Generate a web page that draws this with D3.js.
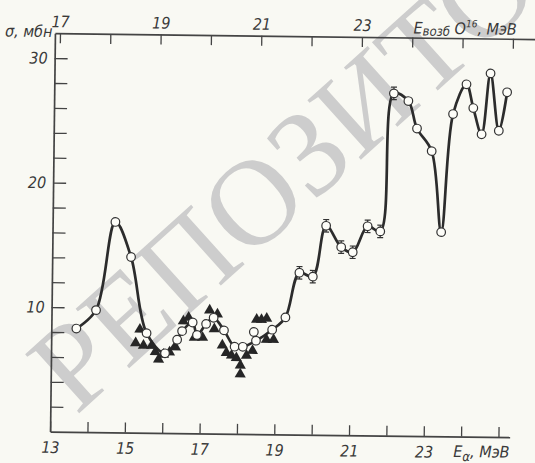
<!DOCTYPE html>
<meta charset="utf-8">
<script src="https://d3js.org/d3.v7.min.js"></script>
<style>
  body { margin: 0; background: #f9f9f3; }
</style>
<div id="my_dataviz"></div>
<script>
// open circles, joined by the smooth curve (E alpha, MeV / sigma, mb)
var circleE = [13.67, 14.19, 14.68, 15.11, 15.55, 16.05, 16.37, 16.50, 16.78, 16.90,
               17.14, 17.34, 17.62, 17.91, 18.13, 18.42, 18.48, 18.91, 19.26, 19.62,
               19.98, 20.32, 20.73, 21.04, 21.43, 21.77, 22.09, 22.48, 22.72, 23.12,
               23.40, 23.68, 24.03, 24.22, 24.45, 24.67, 24.91, 25.12];
var circleSigma = [8.3, 9.8, 16.9, 14.1, 8.0, 6.4, 7.5, 8.2, 8.9, 7.9,
                   8.8, 9.3, 8.3, 7.0, 7.0, 8.2, 7.5, 8.4, 9.4, 13.0,
                   12.7, 16.8, 15.1, 14.7, 16.8, 16.4, 27.5, 26.9, 24.7, 22.9,
                   16.4, 25.9, 28.3, 26.4, 24.3, 29.2, 24.6, 27.7];
var circleErr = [0, 0, 0, 0, 0, 0, 0, 0, 0, 0,
                 0, 0, 0, 0, 0, 0, 0, 0, 0, 0.5,
                 0.5, 0.5, 0.5, 0.5, 0.5, 0.5, 0.5, 0, 0, 0,
                 0, 0, 0, 0, 0, 0, 0, 0];
var circleOnCurve = [1, 1, 1, 1, 1, 1, 1, 1, 1, 1,
                     1, 1, 1, 1, 1, 0, 1, 1, 1, 1,
                     1, 1, 1, 1, 1, 1, 1, 1, 1, 1,
                     1, 1, 1, 1, 1, 1, 1, 1];

// filled triangles
var triE = [15.37, 15.26, 15.47, 15.69, 15.79, 15.88, 16.01, 16.17, 16.33, 16.53,
            16.67, 16.83, 17.05, 17.23, 17.44, 17.36, 17.58, 17.69, 17.83, 17.96,
            18.07, 18.07, 18.23, 18.39, 18.49, 18.62, 18.76, 18.76, 18.95];
var triSigma = [8.3, 7.2, 7.0, 7.0, 6.5, 5.9, 6.3, 6.5, 6.9, 9.0,
                9.3, 7.7, 7.7, 9.9, 9.6, 8.4, 7.1, 6.5, 6.3, 6.1,
                5.5, 4.8, 6.3, 6.7, 9.2, 9.2, 9.3, 7.6, 7.6];

// ticks
var bottomTicks = [13, 14, 15, 16, 17, 18, 19, 20, 21, 22, 23, 24, 25];
var bottomLabels = [13, 15, 17, 19, 21, 23];
var topTicks = [17, 18, 19, 20, 21, 22, 23, 24, 25, 26];
var topLabels = [17, 19, 21, 23];
var yTicks = [2, 4, 6, 8, 10, 12, 14, 16, 18, 20, 22, 24, 26, 28, 30];
var yLabels = [10, 20, 30];

var W = 535, H = 463;
var ink = "#333";
var labelFont = "'Liberation Sans Narrow', 'DejaVu Sans Condensed', sans-serif";

var svg = d3.select("#my_dataviz")
  .append("svg")
    .attr("width", W)
    .attr("height", H);

svg.append("rect").attr("width", W).attr("height", H).attr("fill", "#f9f9f3");

// watermark of the scan
svg.append("text")
  .attr("transform", "translate(76,416) rotate(-42)")
  .attr("font-family", "'Liberation Serif', 'DejaVu Serif', serif")
  .attr("font-size", 122)
  .attr("fill", "#cdcdcd")
  .text("РЕПОЗИТОРИЙ");

// the scan is turned a little clockwise
var g = svg.append("g").attr("transform", "rotate(0.7,290,235)");

var x = d3.scaleLinear().domain([13, 25.3]).range([52.5, 512.1]);
var xTop = d3.scaleLinear().domain([16.9, 26.5]).range([52.5, 535.7]);
var y = d3.scaleLinear().domain([0, 32]).range([434.5, 36.1]);

function styleAxis(sel) {
  sel.attr("color", "#444")
     .attr("font-family", labelFont)
     .attr("font-style", "italic")
     .attr("font-size", 16);
  sel.select(".domain").attr("stroke-width", 1.7);
  sel.selectAll(".tick line").attr("stroke-width", 1.3);
  sel.selectAll("text").attr("fill", "#3a3a3a");
}

g.append("g")
  .attr("transform", "translate(0,434.5)")
  .call(d3.axisBottom(x).tickValues(bottomTicks).tickSize(-10).tickSizeOuter(0).tickPadding(10)
    .tickFormat(function(d) { return bottomLabels.indexOf(d) >= 0 ? d : ""; }))
  .call(styleAxis);

g.append("g")
  .attr("transform", "translate(0,36.1)")
  .call(d3.axisTop(xTop).tickValues(topTicks).tickSize(-10).tickSizeOuter(0).tickPadding(6)
    .tickFormat(function(d) { return topLabels.indexOf(d) >= 0 ? d : ""; }))
  .call(styleAxis);

g.append("g")
  .attr("transform", "translate(52.5,0)")
  .call(d3.axisLeft(y).tickValues(yTicks).tickSize(-13).tickSizeOuter(0).tickPadding(7)
    .tickFormat(function(d) { return yLabels.indexOf(d) >= 0 ? d : ""; }))
  .call(styleAxis);

// axis titles
g.append("text")
  .attr("x", 50).attr("y", 40)
  .attr("text-anchor", "end")
  .attr("font-family", labelFont).attr("font-style", "italic").attr("font-size", 16)
  .attr("fill", "#3a3a3a")
  .text("σ, мбн");

var topTitle = g.append("text")
  .attr("x", 411).attr("y", 32)
  .attr("font-family", labelFont).attr("font-style", "italic").attr("font-size", 16)
  .attr("fill", "#3a3a3a");
topTitle.append("tspan").text("E");
topTitle.append("tspan").attr("font-size", 13).attr("dy", 2).text("возб");
topTitle.append("tspan").attr("dy", -2).text(" O");
topTitle.append("tspan").attr("font-size", 10).attr("dy", -7).text("16");
topTitle.append("tspan").attr("dy", 7).text(", МэВ");

var botTitle = g.append("text")
  .attr("x", 456).attr("y", 455)
  .attr("font-family", labelFont).attr("font-style", "italic").attr("font-size", 16)
  .attr("fill", "#3a3a3a");
botTitle.append("tspan").text("E");
botTitle.append("tspan").attr("font-size", 13).attr("dy", 4).text("α");
botTitle.append("tspan").attr("dy", -4).text(", МэВ");

// data
var circles = circleE.map(function(e, i) {
  return {e: e, s: circleSigma[i], err: circleErr[i], on: circleOnCurve[i]};
});
var tris = triE.map(function(e, i) { return {e: e, s: triSigma[i]}; });

var line = d3.line()
  .x(function(d) { return x(d.e); })
  .y(function(d) { return y(d.s); })
  .curve(d3.curveCatmullRom.alpha(0.5));

g.append("path")
  .datum(circles.filter(function(d) { return d.on; }))
  .attr("d", line)
  .attr("fill", "none")
  .attr("stroke", "#2c2c2c")
  .attr("stroke-width", 2.7)
  .attr("stroke-linejoin", "round");

g.selectAll("path.tri")
  .data(tris)
  .enter()
  .append("path")
    .attr("class", "tri")
    .attr("transform", function(d) { return "translate(" + x(d.e) + "," + y(d.s) + ")"; })
    .attr("d", d3.symbol(d3.symbolTriangle, 54))
    .attr("fill", "#262626");

var withErr = circles.filter(function(d) { return d.err > 0; });
var eb = g.selectAll("g.err").data(withErr).enter().append("g").attr("class", "err")
  .attr("stroke", ink).attr("stroke-width", 1.2);
eb.append("line")
  .attr("x1", function(d) { return x(d.e); }).attr("x2", function(d) { return x(d.e); })
  .attr("y1", function(d) { return y(d.s + d.err); }).attr("y2", function(d) { return y(d.s - d.err); });
eb.append("line")
  .attr("x1", function(d) { return x(d.e) - 3; }).attr("x2", function(d) { return x(d.e) + 3; })
  .attr("y1", function(d) { return y(d.s + d.err); }).attr("y2", function(d) { return y(d.s + d.err); });
eb.append("line")
  .attr("x1", function(d) { return x(d.e) - 3; }).attr("x2", function(d) { return x(d.e) + 3; })
  .attr("y1", function(d) { return y(d.s - d.err); }).attr("y2", function(d) { return y(d.s - d.err); });

g.selectAll("circle.pt")
  .data(circles)
  .enter()
  .append("circle")
    .attr("class", "pt")
    .attr("cx", function(d) { return x(d.e); })
    .attr("cy", function(d) { return y(d.s); })
    .attr("r", 4.3)
    .attr("fill", "#fdfdf8")
    .attr("stroke", ink)
    .attr("stroke-width", 1.2);
</script>
